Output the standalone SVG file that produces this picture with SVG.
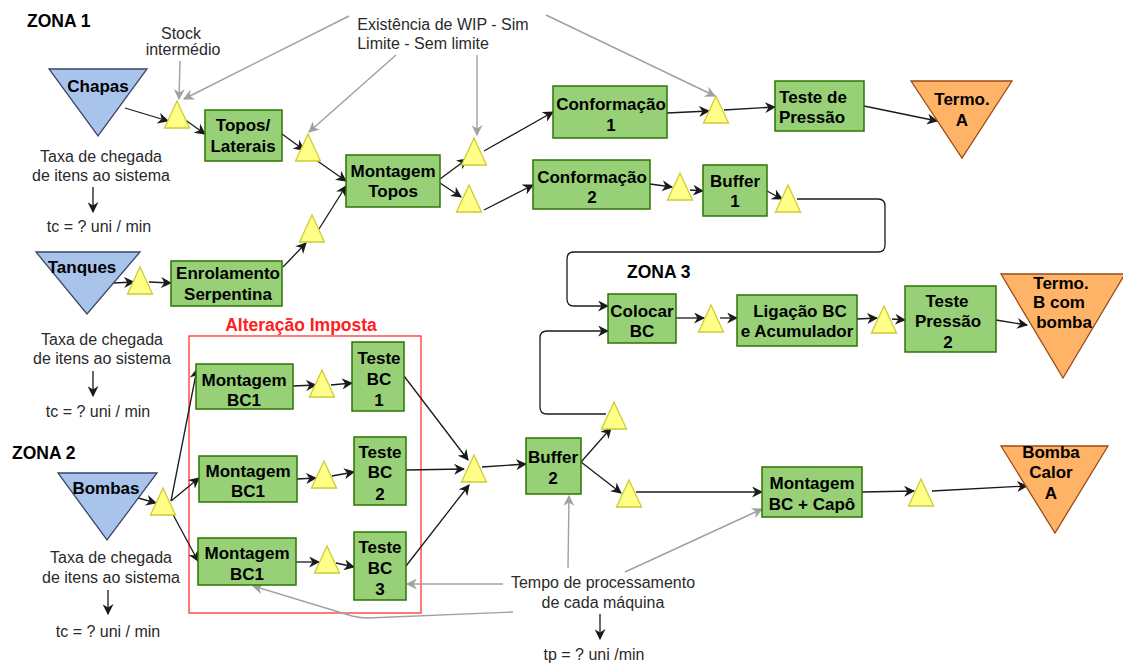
<svg xmlns="http://www.w3.org/2000/svg" xmlns:xlink="http://www.w3.org/1999/xlink" width="1123" height="664" viewBox="0 0 1123 664">
  <style>
    .box { fill: #97d077; stroke: #2d7600; stroke-width: 1.5; }
    .src { fill: #a9c4eb; stroke: #38466a; stroke-width: 1.3; }
    .out { fill: #ffb366; stroke: #9c4a1a; stroke-width: 1.3; }
    .lbl { font-family: "Liberation Sans", Arial, sans-serif; font-weight: bold; font-size: 17px; fill: #000; text-anchor: middle; }
    .note { font-family: "Liberation Sans", Arial, sans-serif; font-size: 16px; fill: #2a2a2a; text-anchor: middle; }
    .zone { font-family: "Liberation Sans", Arial, sans-serif; font-weight: bold; font-size: 17.5px; fill: #000; }
    .flow { fill: none; stroke: #1a1a1a; stroke-width: 1.3; marker-end: url(#ah); }
    .hint { fill: none; stroke: #a0a0a0; stroke-width: 1.4; marker-end: url(#ahg); }
  </style>
  <defs>
    <marker id="ah" viewBox="0 0 10 10" refX="9" refY="5" markerWidth="11" markerHeight="11" markerUnits="userSpaceOnUse" orient="auto">
      <path d="M0,0 L10,5 L0,10 L3,5 z" fill="#1a1a1a"/>
    </marker>
    <marker id="ahg" viewBox="0 0 10 10" refX="9" refY="5" markerWidth="11" markerHeight="11" markerUnits="userSpaceOnUse" orient="auto">
      <path d="M0,0 L10,5 L0,10 L3,5 z" fill="#a0a0a0"/>
    </marker>
    <polygon id="wip" points="12.5,0 25,27 0,27" fill="#ffff88" stroke="#cccc33" stroke-width="1.3"/>
  </defs>

  <!-- zone titles -->
  <text class="zone" x="27" y="27">ZONA 1</text>
  <text class="zone" x="12" y="459">ZONA 2</text>
  <text class="zone" x="627" y="278">ZONA 3</text>

  <!-- imposed change frame -->
  <g id="alteracao">
    <rect x="189" y="336" width="232" height="277" fill="none" stroke="#ff3333" stroke-width="1.3"/>
    <text x="301" y="331" font-family="Liberation Sans, Arial, sans-serif" font-weight="bold" font-size="17.5" fill="#ff2020" text-anchor="middle">Alteração Imposta</text>
  </g>

  <!-- connectors -->
  <g id="connectors">
    <line class="flow" x1="125" y1="108" x2="168" y2="121"/>
    <line class="flow" x1="184" y1="119" x2="205" y2="134"/>
    <line class="flow" x1="282" y1="134" x2="304" y2="150"/>
    <line class="flow" x1="316" y1="160" x2="346" y2="181"/>
    <line class="flow" x1="283" y1="267" x2="306" y2="243"/>
    <line class="flow" x1="319" y1="229" x2="346" y2="186"/>
    <line class="flow" x1="440" y1="179" x2="467" y2="159"/>
    <line class="flow" x1="440" y1="183" x2="461" y2="197"/>
    <line class="flow" x1="484" y1="151" x2="553" y2="112"/>
    <line class="flow" x1="484" y1="210" x2="533" y2="185"/>
    <line class="flow" x1="667" y1="113" x2="709" y2="111"/>
    <line class="flow" x1="724" y1="110" x2="775" y2="107"/>
    <line class="flow" x1="864" y1="106" x2="937" y2="121"/>
    <line class="flow" x1="650" y1="184" x2="672" y2="187"/>
    <line class="flow" x1="690" y1="190" x2="703" y2="191"/>
    <line class="flow" x1="767" y1="191" x2="782" y2="199"/>
    <path class="flow" d="M797,199 L878,199 Q885,199 885,206 L885,245 Q885,252 878,252 L574,252 Q567,252 567,259 L567,299 Q567,306 574,306 L608,306"/>
    <line class="flow" x1="113" y1="283" x2="134" y2="282"/>
    <line class="flow" x1="149" y1="282" x2="171" y2="283"/>
    <line class="flow" x1="676" y1="318" x2="704" y2="318"/>
    <line class="flow" x1="720" y1="318" x2="737" y2="318"/>
    <line class="flow" x1="857" y1="319" x2="877" y2="318"/>
    <line class="flow" x1="892" y1="319" x2="905" y2="320"/>
    <line class="flow" x1="996" y1="320" x2="1027" y2="325"/>
    <line class="flow" x1="131" y1="496" x2="156" y2="503"/>
    <line class="flow" x1="171" y1="501" x2="197" y2="369"/>
    <line class="flow" x1="171" y1="501" x2="199" y2="478"/>
    <line class="flow" x1="170" y1="509" x2="198" y2="561"/>
    <line class="flow" x1="293" y1="386" x2="316" y2="385"/>
    <line class="flow" x1="331" y1="385" x2="352" y2="383"/>
    <line class="flow" x1="297" y1="479" x2="316" y2="478"/>
    <line class="flow" x1="332" y1="476" x2="354" y2="472"/>
    <line class="flow" x1="296" y1="562" x2="319" y2="562"/>
    <line class="flow" x1="336" y1="563" x2="354" y2="567"/>
    <line class="flow" x1="404" y1="376" x2="468" y2="460"/>
    <line class="flow" x1="406" y1="470" x2="464" y2="469"/>
    <line class="flow" x1="406" y1="566" x2="469" y2="485"/>
    <line class="flow" x1="482" y1="467" x2="526" y2="464"/>
    <line class="flow" x1="581" y1="462" x2="611" y2="428"/>
    <line class="flow" x1="581" y1="462" x2="621" y2="493"/>
    <path class="flow" d="M606,414 L547,414 Q540,414 540,407 L540,338 Q540,331 547,331 L608,331"/>
    <line class="flow" x1="636" y1="492" x2="762" y2="492"/>
    <line class="flow" x1="862" y1="492" x2="914" y2="491"/>
    <line class="flow" x1="932" y1="491" x2="1027" y2="486"/>
    <!-- annotation arrows -->
    <line class="flow" x1="93" y1="187" x2="93" y2="212"/>
    <line class="flow" x1="93" y1="371" x2="93" y2="396"/>
    <line class="flow" x1="108" y1="590" x2="108" y2="614"/>
    <line class="flow" x1="600" y1="614" x2="600" y2="639"/>
    <line class="hint" x1="180" y1="61" x2="179" y2="99"/>
    <line class="hint" x1="349" y1="16" x2="184" y2="99"/>
    <line class="hint" x1="396" y1="55" x2="309" y2="132"/>
    <line class="hint" x1="477" y1="55" x2="477" y2="135"/>
    <line class="hint" x1="546" y1="15" x2="715" y2="96"/>
    <line class="hint" x1="568" y1="568" x2="569" y2="496"/>
    <line class="hint" x1="625" y1="572" x2="762" y2="509"/>
    <line class="hint" x1="503" y1="584" x2="407" y2="584"/>
    <path class="hint" d="M513,612 L368,618 Q360,618 352,616 L253,586"/>
  </g>

  <!-- sources -->
  <g id="chapas">
    <polygon class="src" points="49,69 147,69 98,136"/>
    <text class="lbl" x="98" y="92">Chapas</text>
  </g>
  <g id="tanques">
    <polygon class="src" points="36,252 140,252 87,314"/>
    <text class="lbl" x="82" y="273">Tanques</text>
  </g>
  <g id="bombas">
    <polygon class="src" points="58,473 157,473 107,540"/>
    <text class="lbl" x="106" y="494">Bombas</text>
  </g>

  <!-- outputs -->
  <g id="termo-a">
    <polygon class="out" points="911,81 1012,81 962,158"/>
    <text class="lbl" x="962" y="105">Termo.</text>
    <text class="lbl" x="962" y="126">A</text>
  </g>
  <g id="termo-b">
    <polygon class="out" points="1001,274 1125,274 1063,378"/>
    <text class="lbl" x="1061" y="289">Termo.</text>
    <text class="lbl" x="1059" y="308">B com</text>
    <text class="lbl" x="1064" y="328">bomba</text>
  </g>
  <g id="bomba-calor-a">
    <polygon class="out" points="1001,446 1108,446 1055,533"/>
    <text class="lbl" x="1051" y="458">Bomba</text>
    <text class="lbl" x="1051" y="478">Calor</text>
    <text class="lbl" x="1051" y="499">A</text>
  </g>

  <!-- machines -->
  <g id="topos-laterais">
    <rect class="box" x="205" y="110" width="77" height="51"/>
    <text class="lbl" x="243" y="131">Topos/</text>
    <text class="lbl" x="243" y="152">Laterais</text>
  </g>
  <g id="montagem-topos">
    <rect class="box" x="346" y="155" width="94" height="52"/>
    <text class="lbl" x="393" y="177">Montagem</text>
    <text class="lbl" x="393" y="197">Topos</text>
  </g>
  <g id="conformacao-1">
    <rect class="box" x="553" y="86" width="114" height="52"/>
    <text class="lbl" x="611" y="110">Conformação</text>
    <text class="lbl" x="611" y="131">1</text>
  </g>
  <g id="conformacao-2">
    <rect class="box" x="533" y="160" width="117" height="49"/>
    <text class="lbl" x="592" y="183">Conformação</text>
    <text class="lbl" x="592" y="203">2</text>
  </g>
  <g id="buffer-1">
    <rect class="box" x="703" y="165" width="64" height="51"/>
    <text class="lbl" x="735" y="187">Buffer</text>
    <text class="lbl" x="735" y="207">1</text>
  </g>
  <g id="teste-pressao">
    <rect class="box" x="775" y="81" width="89" height="50"/>
    <text class="lbl" x="813" y="103">Teste de</text>
    <text class="lbl" x="812" y="123">Pressão</text>
  </g>
  <g id="enrolamento">
    <rect class="box" x="171" y="261" width="111" height="45"/>
    <text class="lbl" x="228" y="279">Enrolamento</text>
    <text class="lbl" x="228" y="300">Serpentina</text>
  </g>
  <g id="colocar-bc">
    <rect class="box" x="608" y="294" width="68" height="49"/>
    <text class="lbl" x="642" y="317">Colocar</text>
    <text class="lbl" x="642" y="337">BC</text>
  </g>
  <g id="ligacao-bc">
    <rect class="box" x="737" y="295" width="120" height="51"/>
    <text class="lbl" x="800" y="317">Ligação BC</text>
    <text class="lbl" x="797" y="337">e Acumulador</text>
  </g>
  <g id="teste-pressao-2">
    <rect class="box" x="905" y="286" width="91" height="66"/>
    <text class="lbl" x="947" y="307">Teste</text>
    <text class="lbl" x="948" y="327">Pressão</text>
    <text class="lbl" x="948" y="348">2</text>
  </g>
  <g id="montagem-bc1-a">
    <rect class="box" x="196" y="364" width="97" height="45"/>
    <text class="lbl" x="244" y="386">Montagem</text>
    <text class="lbl" x="244" y="406">BC1</text>
  </g>
  <g id="teste-bc-1">
    <rect class="box" x="352" y="342" width="52" height="69"/>
    <text class="lbl" x="379" y="364">Teste</text>
    <text class="lbl" x="379" y="385">BC</text>
    <text class="lbl" x="379" y="406">1</text>
  </g>
  <g id="montagem-bc1-b">
    <rect class="box" x="199" y="456" width="98" height="46"/>
    <text class="lbl" x="248" y="477">Montagem</text>
    <text class="lbl" x="248" y="497">BC1</text>
  </g>
  <g id="teste-bc-2">
    <rect class="box" x="354" y="437" width="52" height="68"/>
    <text class="lbl" x="380" y="458">Teste</text>
    <text class="lbl" x="380" y="478">BC</text>
    <text class="lbl" x="380" y="500">2</text>
  </g>
  <g id="montagem-bc1-c">
    <rect class="box" x="198" y="538" width="98" height="47"/>
    <text class="lbl" x="247" y="559">Montagem</text>
    <text class="lbl" x="247" y="580">BC1</text>
  </g>
  <g id="teste-bc-3">
    <rect class="box" x="354" y="532" width="52" height="68"/>
    <text class="lbl" x="380" y="553">Teste</text>
    <text class="lbl" x="380" y="574">BC</text>
    <text class="lbl" x="380" y="595">3</text>
  </g>
  <g id="buffer-2">
    <rect class="box" x="526" y="438" width="55" height="56"/>
    <text class="lbl" x="553" y="463">Buffer</text>
    <text class="lbl" x="553" y="484">2</text>
  </g>
  <g id="montagem-bc-capo">
    <rect class="box" x="762" y="467" width="100" height="50"/>
    <text class="lbl" x="812" y="489">Montagem</text>
    <text class="lbl" x="812" y="510">BC + Capô</text>
  </g>

  <!-- intermediate stock (WIP) -->
  <g id="stocks">
    <use xlink:href="#wip" x="164.5" y="101"/>
    <use xlink:href="#wip" x="295.5" y="134"/>
    <use xlink:href="#wip" x="299.5" y="215"/>
    <use xlink:href="#wip" x="461.5" y="138"/>
    <use xlink:href="#wip" x="456.5" y="185"/>
    <use xlink:href="#wip" x="703.5" y="96"/>
    <use xlink:href="#wip" x="667.5" y="173"/>
    <use xlink:href="#wip" x="775.5" y="185"/>
    <use xlink:href="#wip" x="127.5" y="267"/>
    <use xlink:href="#wip" x="698.5" y="305"/>
    <use xlink:href="#wip" x="871.5" y="306"/>
    <use xlink:href="#wip" x="309.5" y="370"/>
    <use xlink:href="#wip" x="311.5" y="461"/>
    <use xlink:href="#wip" x="314.5" y="546"/>
    <use xlink:href="#wip" x="150.5" y="488"/>
    <use xlink:href="#wip" x="461.5" y="455"/>
    <use xlink:href="#wip" x="601.5" y="402"/>
    <use xlink:href="#wip" x="616.5" y="480"/>
    <use xlink:href="#wip" x="908.5" y="479"/>
  </g>

  <!-- notes -->
  <g id="notes">
    <text class="note" font-size="14" x="181" y="39">Stock</text>
    <text class="note" font-size="14" x="183" y="55">intermédio</text>
    <text class="note" x="443" y="30">Existência de WIP - Sim</text>
    <text class="note" x="423" y="49">Limite - Sem limite</text>
    <text class="note" font-size="16.5" x="101" y="162">Taxa de chegada</text>
    <text class="note" font-size="16.5" x="101" y="181">de itens ao sistema</text>
    <text class="note" x="99" y="232">tc = ? uni / min</text>
    <text class="note" font-size="16.5" x="102" y="345">Taxa de chegada</text>
    <text class="note" font-size="16.5" x="102" y="364">de itens ao sistema</text>
    <text class="note" x="98" y="417">tc = ? uni / min</text>
    <text class="note" font-size="16.5" x="111" y="563">Taxa de chegada</text>
    <text class="note" font-size="16.5" x="111" y="583">de itens ao sistema</text>
    <text class="note" x="108" y="637">tc = ? uni / min</text>
    <text class="note" x="603" y="588">Tempo de processamento</text>
    <text class="note" x="603" y="608">de cada máquina</text>
    <text class="note" x="594" y="660">tp = ? uni /min</text>
  </g>
</svg>
